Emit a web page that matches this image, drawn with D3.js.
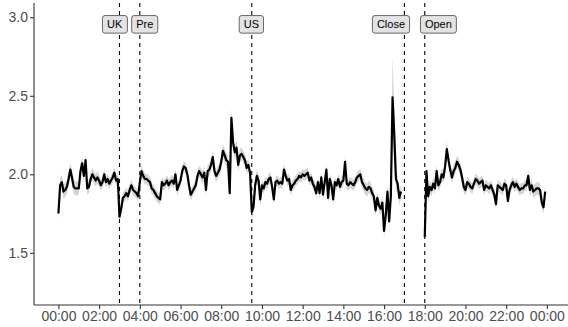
<!DOCTYPE html>
<html>
<head>
<meta charset="utf-8">
<script src="https://cdn.jsdelivr.net/npm/d3@7"></script>
<style>
  html, body { margin: 0; padding: 0; background: #fff; }
  svg { display: block; font-family: "Liberation Sans", Arial, sans-serif; }
</style>
</head>
<body>
<svg id="chart" width="568" height="327"></svg>
<script>
// Intraday series, one value every 5 minutes.
// Session A runs 00:00 -> 16:50, session B runs 18:00 -> 23:55.
const stepMinutes = 5;
const sessionAStart = 0;   // hours
const sessionBStart = 18;  // hours

const sessionA = [
  1.75, 1.93, 1.95, 1.89, 1.90, 1.92, 1.97, 2.03, 1.98, 1.92, 1.91, 1.91,
  1.91, 2.02, 2.07, 1.99, 2.09, 1.91, 1.92, 1.97, 2.00, 1.98, 1.96, 1.98,
  1.96, 1.93, 1.95, 2.00, 1.95, 1.97, 1.94, 1.96, 1.98, 2.01, 1.96, 1.97,
  1.73, 1.78, 1.85, 1.86, 1.88, 1.86, 1.90, 1.93, 1.90, 1.89, 1.88, 1.86,
  1.95, 2.02, 1.99, 1.97, 1.97, 1.96, 1.95, 1.91, 1.90, 1.88, 1.86, 1.85,
  1.84, 1.95, 1.93, 1.94, 1.96, 1.93, 1.95, 1.96, 1.94, 2.00, 1.90, 1.93,
  1.96, 2.02, 2.05, 2.04, 2.00, 1.93, 1.87, 1.89, 1.91, 1.93, 1.99, 2.02,
  2.00, 1.98, 2.01, 1.90, 2.02, 2.03, 2.06, 2.11, 2.02, 1.99, 2.01, 2.03,
  2.08, 2.15, 2.12, 2.09, 2.08, 1.88, 2.36, 2.20, 2.14, 2.17, 2.06, 2.12,
  2.13, 2.11, 2.09, 2.04, 2.06, 2.01, 1.76, 1.79, 1.93, 1.99, 1.96, 1.84,
  1.93, 1.91, 1.95, 1.94, 1.97, 1.98, 1.92, 1.84, 1.95, 1.96, 1.94, 1.95,
  1.94, 2.03, 1.99, 1.96, 1.97, 1.90, 1.93, 1.94, 1.96, 1.97, 1.99, 1.98,
  2.00, 1.99, 2.00, 2.01, 1.96, 1.98, 1.94, 1.92, 1.88, 1.95, 1.88, 1.98,
  1.87, 1.95, 2.03, 1.85, 1.97, 1.93, 1.84, 1.95, 1.93, 1.97, 1.92, 1.95,
  1.96, 2.08, 1.94, 1.93, 1.95, 1.94, 1.93, 1.95, 1.98, 1.99, 2.00, 1.95,
  1.93, 1.91, 1.90, 1.92, 1.91, 1.88, 1.86, 1.77, 1.85, 1.80, 1.78, 1.82,
  1.64, 1.74, 1.89, 1.70, 1.86, 2.49, 2.26, 1.97, 1.94, 1.85, 1.89
];

const sessionB = [
  1.60, 2.02, 1.86, 1.92, 1.90, 1.94, 1.91, 2.02, 1.93, 1.95, 2.00, 1.98,
  2.05, 2.16, 2.09, 2.03, 1.98, 2.02, 2.04, 2.08, 2.06, 2.03, 1.98, 1.92,
  1.90, 1.95, 1.94, 1.92, 1.91, 1.94, 1.97, 1.96, 1.94, 1.95, 1.96, 1.90,
  1.93, 1.92, 1.91, 1.93, 1.90, 1.87, 1.81, 1.93, 1.92, 1.91, 1.90, 1.94,
  1.93, 1.83, 1.90, 1.93, 1.95, 1.92, 1.94, 1.92, 1.90, 1.91, 1.91, 1.93,
  1.93, 1.99, 1.90, 1.93, 1.89, 1.90, 1.91, 1.91, 1.90, 1.82, 1.79, 1.89
];

// Half-width of the confidence band for each hour of the day
const hourSpread = [
  0.045, 0.04, 0.035, 0.035, 0.035, 0.035, 0.035, 0.04, 0.045, 0.04, 0.035, 0.035,
  0.035, 0.035, 0.035, 0.04, 0.045, 0.04, 0.04, 0.04, 0.035, 0.035, 0.035, 0.04
];
// Wider band around individual spikes: [session, index, half-width]
const spreadOverrides = [
  ["A", 0, 0.05], ["A", 102, 0.06], ["A", 114, 0.05],
  ["A", 196, 0.08], ["A", 197, 0.26], ["A", 198, 0.18], ["A", 199, 0.08],
  ["B", 0, 0.05], ["B", 13, 0.05]
];

// Session markers
const eventNames = ["UK", "Pre", "US", "Close", "Open"];
const eventHours = [3, 4, 9.5, 17, 18];

// Axis ticks
const xTickHours = [0, 2, 4, 6, 8, 10, 12, 14, 16, 18, 20, 22, 24];
const xTickLabels = ["00:00", "02:00", "04:00", "06:00", "08:00", "10:00", "12:00",
                     "14:00", "16:00", "18:00", "20:00", "22:00", "00:00"];
const yTickValues = [1.5, 2.0, 2.5, 3.0];

// ---- build point lists ----
function buildSession(values, startHour, key) {
  return values.map((v, i) => {
    const h = startHour + i * stepMinutes / 60;
    const ov = spreadOverrides.find(o => o[0] === key && o[1] === i);
    const s = ov ? ov[2] : hourSpread[Math.min(23, Math.floor(h))];
    return { h, v, lo: v - s, hi: v + s };
  });
}
const sessions = [buildSession(sessionA, sessionAStart, "A"),
                  buildSession(sessionB, sessionBStart, "B")];

// ---- layout ----
const svg = d3.select("#chart");
const panelLeft = 34, panelTop = 3, panelBottom = 305, panelRight = 571.3;

const x = d3.scaleLinear().domain([-1.2, 25.2]).range([panelLeft, panelRight]);
const y = d3.scaleLinear().domain([1.1675, 3.091]).range([panelBottom, panelTop]);

// label placement (nudged sideways so neighbouring boxes don't collide)
const labelLevel = 2.955;
const labelHours = [2.76, 4.24, 9.48, 16.34, 18.67];

// ribbon
const area = d3.area().x(d => x(d.h)).y0(d => y(d.lo)).y1(d => y(d.hi));
svg.append("g").selectAll("path").data(sessions).join("path")
  .attr("d", area).attr("fill", "#d6d6d6").attr("stroke", "none");

// event lines
svg.append("g").selectAll("line").data(eventHours).join("line")
  .attr("x1", d => x(d)).attr("x2", d => x(d))
  .attr("y1", panelTop).attr("y2", panelBottom)
  .attr("stroke", "#000").attr("stroke-width", 1.1)
  .attr("stroke-dasharray", "4,4");

// series line
const line = d3.line().x(d => x(d.h)).y(d => y(d.v));
svg.append("g").selectAll("path").data(sessions).join("path")
  .attr("d", line).attr("fill", "none").attr("stroke", "#000")
  .attr("stroke-width", 2.2).attr("stroke-linejoin", "round");

// axes
const axisColor = "#333";
const tickText = "#4d4d4d";

const xAxis = d3.axisBottom(x).tickValues(xTickHours)
  .tickFormat((d, i) => xTickLabels[i]).tickSize(4).tickPadding(2);
const gx = svg.append("g").attr("transform", `translate(0,${panelBottom})`).call(xAxis);
gx.select(".domain").attr("d", `M${panelLeft},0H${panelRight}`).attr("stroke", axisColor).attr("stroke-width", 1.1);
gx.selectAll(".tick line").attr("stroke", axisColor).attr("stroke-width", 1.1);
gx.selectAll(".tick text").attr("fill", tickText).attr("font-size", 14)
  .attr("font-family", "Liberation Sans, Arial, sans-serif");

const yAxis = d3.axisLeft(y).tickValues(yTickValues)
  .tickFormat(d3.format(".1f")).tickSize(4).tickPadding(2);
const gy = svg.append("g").attr("transform", `translate(${panelLeft},0)`).call(yAxis);
gy.select(".domain").attr("d", `M0,${panelTop}V${panelBottom}`).attr("stroke", axisColor).attr("stroke-width", 1.1);
gy.selectAll(".tick line").attr("stroke", axisColor).attr("stroke-width", 1.1);
gy.selectAll(".tick text").attr("fill", tickText).attr("font-size", 14)
  .attr("font-family", "Liberation Sans, Arial, sans-serif");

// event labels
const labels = svg.append("g").selectAll("g").data(eventNames).join("g")
  .attr("transform", (d, i) => `translate(${x(labelHours[i])},${y(labelLevel)})`);
labels.append("text")
  .attr("text-anchor", "middle").attr("dy", "0.36em")
  .attr("font-size", 11).attr("fill", "#000")
  .text(d => d);
labels.each(function () {
  const g = d3.select(this);
  const bb = g.select("text").node().getBBox();
  const padX = 4.5;
  g.insert("rect", "text")
    .attr("x", bb.x - padX).attr("y", -8.8)
    .attr("width", bb.width + 2 * padX).attr("height", 17.6)
    .attr("rx", 2.5).attr("ry", 2.5)
    .attr("fill", "#e3e3e3").attr("stroke", "#444").attr("stroke-width", 0.8);
});
</script>
</body>
</html>
